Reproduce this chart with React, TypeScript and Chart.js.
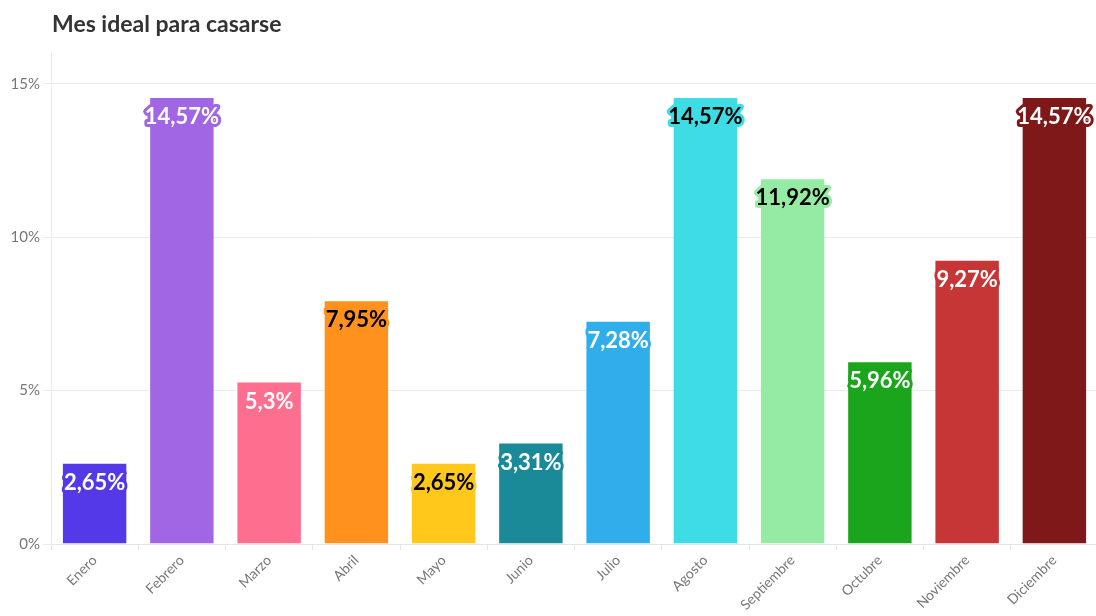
import React, { useEffect, useRef } from "react";
import { Chart, registerables } from "chart.js";

Chart.register(...registerables);

const months = ["Enero", "Febrero", "Marzo", "Abril", "Mayo", "Junio", "Julio", "Agosto", "Septiembre", "Octubre", "Noviembre", "Diciembre"];
const values = [2.65, 14.57, 5.3, 7.95, 2.65, 3.31, 7.28, 14.57, 11.92, 5.96, 9.27, 14.57];
const valueLabels = ["2,65%", "14,57%", "5,3%", "7,95%", "2,65%", "3,31%", "7,28%", "14,57%", "11,92%", "5,96%", "9,27%", "14,57%"];
const barColors = ["#5339E8", "#A066E3", "#FE6E8E", "#FF911D", "#FFC81A", "#1A8A99", "#30AEEC", "#3EDDE5", "#96EBA4", "#1BA51D", "#C73636", "#7F1818"];
const labelTextColors = ["#fff", "#fff", "#fff", "#000", "#000", "#fff", "#fff", "#000", "#000", "#fff", "#fff", "#fff"];
const yTicks = [0, 5, 10, 15];
const title = "Mes ideal para casarse";

const FONT = "Lato, 'Open Sans', sans-serif";

export default function App() {
  const ref = useRef<HTMLCanvasElement | null>(null);
  useEffect(() => {
    document.body.style.margin = "0";
    const labelPlugin = {
      id: "labels",
      afterDatasetsDraw(chart: any) {
        const ctx = chart.ctx;
        const meta = chart.getDatasetMeta(0);
        ctx.save();
        ctx.font = `bold 22px ${FONT}`;
        ctx.textAlign = "center";
        ctx.textBaseline = "middle";
        ctx.lineJoin = "round";
        meta.data.forEach((bar: any, i: number) => {
          const x = bar.x;
          const y = bar.y + 20;
          ctx.lineWidth = 6;
          ctx.strokeStyle = barColors[i];
          ctx.strokeText(valueLabels[i], x, y);
          ctx.fillStyle = labelTextColors[i];
          ctx.fillText(valueLabels[i], x, y);
        });
        ctx.restore();
      },
      afterDraw(chart: any) {
        const ctx = chart.ctx;
        ctx.save();
        ctx.font = `bold 23px ${FONT}`;
        ctx.fillStyle = "#333";
        ctx.textAlign = "left";
        ctx.textBaseline = "middle";
        ctx.fillText(title, 52, 25);
        ctx.restore();
      },
    };
    const chart = new Chart(ref.current!, {
      type: "bar",
      data: {
        labels: months,
        datasets: [
          {
            data: values,
            backgroundColor: barColors,
            borderColor: "rgba(255,255,255,0.35)",
            borderWidth: 1,
            barPercentage: 0.75,
            categoryPercentage: 1,
          },
        ],
      },
      options: {
        animation: false,
        responsive: false,
        maintainAspectRatio: false,
        layout: { padding: { top: 52, right: 0, left: 0, bottom: 0 } },
        plugins: { legend: { display: false }, tooltip: { enabled: false }, title: { display: false } },
        scales: {
          x: {
            grid: { display: true, drawOnChartArea: false, drawTicks: true, tickLength: 6, color: "#e6e6e6" },
            border: { color: "#e6e6e6" },
            ticks: { color: "#777", font: { family: FONT, size: 14 }, maxRotation: 45, minRotation: 45, padding: 2 },
            afterFit(scale: any) {
              scale.height = 72;
            },
          },
          y: {
            min: 0,
            max: 16.04,
            afterBuildTicks(scale: any) {
              scale.ticks = yTicks.map((v) => ({ value: v }));
            },
            grid: { color: "#ebebeb", tickLength: 8 },
            border: { color: "#ebebeb" },
            ticks: {
              color: "#777",
              font: { family: FONT, size: 15 },
              padding: 3,
              callback: (v: any) => `${v}%`,
            },
            afterFit(scale: any) {
              scale.width = 51;
            },
          },
        },
      },
      plugins: [labelPlugin],
    });
    return () => chart.destroy();
  }, []);
  return (
    <div style={{ width: 1096, height: 616, overflow: "hidden" }}>
      <canvas ref={ref} width={1098} height={616} style={{ display: "block" }} />
    </div>
  );
}
